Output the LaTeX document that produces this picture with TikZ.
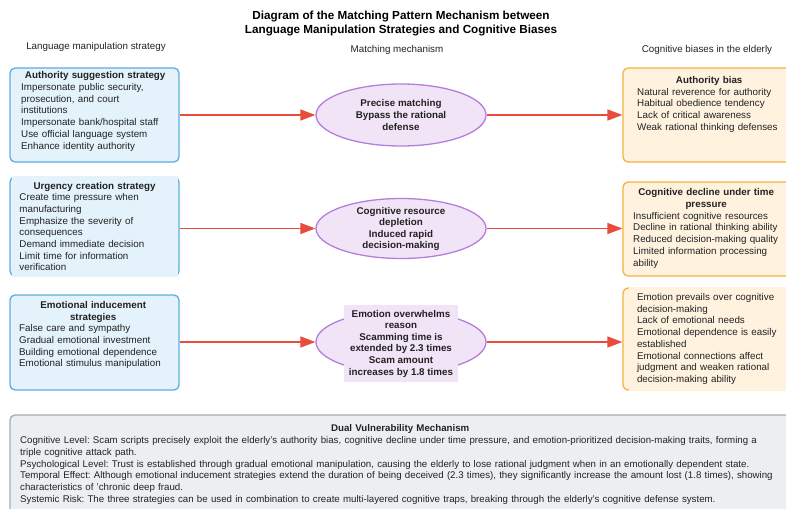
\documentclass[tikz,border=0pt]{standalone}
\usepackage{fontspec}
\setmainfont{Liberation Sans}
\usepackage{xcolor}
\usetikzlibrary{arrows.meta, positioning, shapes.geometric}
\definecolor{stratfill}{HTML}{E3F2FB}
\definecolor{stratline}{HTML}{5DADE2}
\definecolor{biasfill}{HTML}{FFF3E0}
\definecolor{biasline}{HTML}{F5B041}
\definecolor{matchfill}{HTML}{F1E4F7}
\definecolor{matchline}{HTML}{B57EDC}
\definecolor{linkred}{HTML}{E74C3C}
\definecolor{dualfill}{HTML}{ECEFF1}
\definecolor{dualline}{HTML}{A3ADB1}
\definecolor{inkgray}{HTML}{222222}
\frenchspacing
\hyphenpenalty=10000
\tikzset{
	stratbox/.style={draw=stratline, fill=stratfill, line width=1.3pt, rounded corners=5pt, minimum width=169pt, inner sep=0pt},
	biasbox/.style={draw=biasline, fill=biasfill, line width=1.3pt, rounded corners=5pt, minimum width=172pt, inner sep=0pt},
	matchnode/.style={ellipse, draw=matchline, fill=matchfill, line width=1.3pt, minimum width=170pt, inner sep=0pt},
	matchtext/.style={align=center, inner sep=3.5pt, text=inkgray, font=\fontsize{9.8}{11.6}\selectfont\bfseries},
	boxtext/.style={anchor=north west, inner sep=0pt, text width=148pt, align=left, text=inkgray, font=\fontsize{9.8}{11.7}\selectfont},
	header/.style={inner sep=0pt, text=inkgray, font=\fontsize{9.8}{11.7}\selectfont},
	link/.style={draw=linkred, line width=1.5pt, -{Triangle[length=15pt, width=11pt]}}
}
\begin{document}
\begin{tikzpicture}[x=1pt, y=-1pt]
				\useasboundingbox (0,0) rectangle (786,508);
				\clip (0,0) rectangle (786,508);
				\node[align=center, inner sep=0pt, font=\fontsize{11.7}{14}\selectfont\bfseries] (title) at (401,24) {Diagram of the Matching Pattern Mechanism between\\Language Manipulation Strategies and Cognitive Biases};
				\node[header] (lefthead) at (96,47) {Language manipulation strategy};
				\node[header] (midhead) at (397,50) {Matching mechanism};
				\node[header] (righthead) at (707,50) {Cognitive biases in the elderly};
				\node[stratbox, minimum height=94pt] (strat1) at (94.5,115) {};
				\node[stratbox, minimum height=99pt] (strat2) at (94.5,226.5) {};
				\node[stratbox, minimum height=95pt] (strat3) at (94.5,342.5) {};
				\node[boxtext] (strat1t) at (21,71.5) {{\centering\bfseries Authority suggestion strategy\par}Impersonate public security,\\prosecution, and court\\institutions\\Impersonate bank/hospital staff\\Use official language system\\Enhance identity authority};
				\node[boxtext, anchor=center, fill=stratfill, inner xsep=8pt, text width=150pt, minimum height=100.5pt] (strat2t) at (strat2.center) {{\centering\bfseries Urgency creation strategy\par}Create time pressure when\\manufacturing\\Emphasize the severity of\\consequences\\Demand immediate decision\\Limit time for information\\verification};
				\node[boxtext] (strat3t) at (19,301) {{\centering\bfseries Emotional inducement\\strategies\par}False care and sympathy\\Gradual emotional investment\\Building emotional dependence\\Emotional stimulus manipulation};
				\node[matchnode, minimum height=62pt] (match1) at (401,115) {};
				\node[matchnode, minimum height=60pt] (match2) at (401,228.5) {};
				\node[matchnode, minimum height=62pt] (match3) at (401,342) {};
				\node[matchtext] (match1t) at (match1.center) {Precise matching\\Bypass the rational\\defense};
				\node[matchtext] (match2t) at (401,229) {Cognitive resource\\depletion\\Induced rapid\\decision-making};
				\node[matchtext, fill=matchfill, inner sep=5pt] (match3t) at (401,343.5) {Emotion overwhelms\\reason\\Scamming time is\\extended by 2.3 times\\Scam amount\\increases by 1.8 times};
				\node[biasbox, minimum height=94pt] (bias1) at (709,115) {};
				\node[biasbox, minimum height=94pt] (bias2) at (709,229) {};
				\node[biasbox, minimum height=102pt] (bias3) at (709,339) {};
				\node[boxtext, text width=144pt] (bias1t) at (637,76) {{\centering\bfseries Authority bias\par}Natural reverence for authority\\Habitual obedience tendency\\Lack of critical awareness\\Weak rational thinking defenses};
				\node[boxtext, text width=146pt] (bias2t) at (633,188.5) {{\centering\bfseries Cognitive decline under time\\pressure\par}Insufficient cognitive resources\\Decline in rational thinking ability\\Reduced decision-making quality\\Limited information processing\\ability};
				\node[boxtext, anchor=center, fill=biasfill, inner xsep=8pt, text width=150pt, minimum height=103.5pt] (bias3t) at (712,339) {Emotion prevails over cognitive\\decision-making\\Lack of emotional needs\\Emotional dependence is easily\\established\\Emotional connections affect\\judgment and weaken rational\\decision-making ability};
				\draw[link] (strat1.east) -- (match1.west);
				\draw[link] (match2.west -| strat2.east) -- (match2.west);
				\draw[link] (match3.west -| strat3.east) -- (match3.west);
				\draw[link] (match1.east) -- (match1.east -| bias1.west);
				\draw[link] (match2.east) -- (match2.east -| bias2.west);
				\draw[link] (match3.east) -- (match3.east -| bias3.west);
				\node[draw=dualline, fill=dualfill, line width=1.3pt, rounded corners=5pt, minimum width=790pt, minimum height=104pt, inner sep=0pt] (dual) at (405,467) {};
				\node[boxtext, text width=775pt, font=\fontsize{9.7}{11.8}\selectfont] (dualt) at (20,424.5) {{\centering\bfseries\hspace*{-15pt}Dual Vulnerability Mechanism\par}Cognitive Level: Scam scripts precisely exploit the elderly's authority bias, cognitive decline under time pressure, and emotion-prioritized decision-making traits, forming a\\triple cognitive attack path.\\Psychological Level: Trust is established through gradual emotional manipulation, causing the elderly to lose rational judgment when in an emotionally dependent state.\\Temporal Effect: Although emotional inducement strategies extend the duration of being deceived (2.3 times), they significantly increase the amount lost (1.8 times), showing\\characteristics of 'chronic deep fraud.\\Systemic Risk: The three strategies can be used in combination to create multi-layered cognitive traps, breaking through the elderly's cognitive defense system.};
			\end{tikzpicture}
\end{document}
